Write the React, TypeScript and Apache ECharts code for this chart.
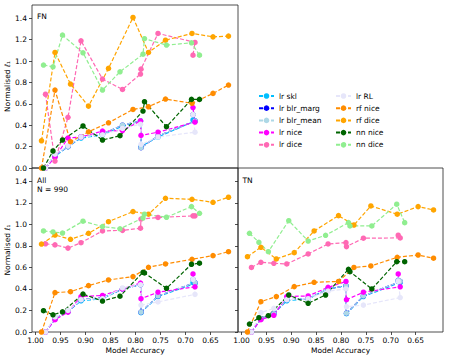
import React, { useEffect, useRef } from "react";
import * as echarts from "echarts";

// x positions (model accuracy) per model family
const lrX = [0.980, 0.961, 0.935, 0.909, 0.866, 0.826, 0.790, 0.789, 0.755, 0.681, 0.685];
const rfX = [0.988, 0.961, 0.930, 0.894, 0.854, 0.805, 0.774, 0.740, 0.687, 0.645, 0.614];
const nnX = [0.984, 0.965, 0.946, 0.905, 0.866, 0.831, 0.785, 0.782, 0.738, 0.688, 0.672];

const seriesNames = ["lr skl", "lr blr_marg", "lr blr_mean", "lr nice", "lr dice", "lr RL", "rf nice", "rf dice", "nn nice", "nn dice"];
const seriesFamily = ["lr", "lr", "lr", "lr", "lr", "lr", "rf", "rf", "nn", "nn"];
const seriesColors = ["#00BFFF", "#0000FF", "#ADD8E6", "#FF00FF", "#FF69B4", "#E6E6FA", "#FF8C00", "#FFA500", "#006400", "#90EE90"];

const panelNames = ["FN", "All", "TN"];
const xTicks = [0.65, 0.7, 0.75, 0.8, 0.85, 0.9, 0.95, 1.0];
const yTicks = [0, 0.2, 0.4, 0.6, 0.8, 1.0, 1.2, 1.4];

// FN panel
const fnLrSkl = [0, 0.11, 0.20, 0.28, 0.31, 0.39, 0.44, 0.20, 0.29, 0.44, 0.45];
const fnLrMarg = [0, 0.12, 0.20, 0.29, 0.32, 0.40, 0.44, 0.19, 0.30, 0.44, 0.50];
const fnLrMean = [0, 0.12, 0.20, 0.29, 0.32, 0.40, 0.44, 0.19, 0.30, 0.44, 0.50];
const fnLrNice = [0, 0.10, 0.28, 0.29, 0.345, 0.35, 0.44, 0.305, 0.335, 0.43, 0.565];
const fnLrDice = [0.69, 0.065, 0.474, 1.19, 0.832, 0.735, 0.879, 0.925, 1.259, 1.175, 1.056];
const fnLrRL = [0, 0.13, 0.21, 0.29, 0.31, 0.37, 0.41, 0.22, 0.29, 0.335, 0.50];
const fnRfNice = [0, 0.729, 0.246, 0.339, 0.423, 0.548, 0.573, 0.645, 0.605, 0.698, 0.776];
const fnRfDice = [0.255, 1.081, 0.785, 0.579, 0.932, 1.408, 1.081, 1.196, 1.259, 1.227, 1.234];
const fnNnNice = [0, 0.159, 0.262, 0.393, 0.262, 0.302, 0.533, 0.62, 0.386, 0.642, 0.642];
const fnNnDice = [0.963, 0.947, 1.243, 1.078, 0.729, 0.90, 1.065, 1.21, 1.15, 1.171, 1.056];

// All panel
const allLrSkl = [0, 0.12, 0.19, 0.29, 0.31, 0.40, 0.44, 0.18, 0.33, 0.45, 0.46];
const allLrMarg = [0, 0.125, 0.19, 0.30, 0.32, 0.40, 0.44, 0.185, 0.335, 0.46, 0.49];
const allLrMean = [0, 0.125, 0.19, 0.30, 0.32, 0.40, 0.44, 0.185, 0.335, 0.46, 0.49];
const allLrNice = [0, 0.115, 0.185, 0.33, 0.34, 0.40, 0.455, 0.31, 0.37, 0.42, 0.54];
const allLrDice = [0.82, 0.81, 0.78, 0.83, 0.94, 0.945, 0.965, 1.05, 1.065, 1.08, 1.08];
const allLrRL = [0, 0.14, 0.20, 0.30, 0.31, 0.41, 0.44, 0.25, 0.28, 0.35, 0.49];
const allRfNice = [0, 0.366, 0.375, 0.431, 0.484, 0.515, 0.602, 0.633, 0.676, 0.71, 0.747];
const allRfDice = [0.818, 0.902, 0.862, 0.918, 1.026, 1.12, 1.095, 1.243, 1.234, 1.206, 1.253];
const allNnNice = [0.198, 0.16, 0.187, 0.353, 0.288, 0.333, 0.555, 0.55, 0.406, 0.63, 0.64];
const allNnDice = [0.94, 0.93, 0.92, 1.03, 0.98, 0.96, 1.06, 1.095, 1.067, 1.166, 1.104];

// TN panel
const tnLrSkl = [0, 0.12, 0.17, 0.29, 0.31, 0.40, 0.43, 0.17, 0.33, 0.46, 0.47];
const tnLrMarg = [0, 0.125, 0.17, 0.30, 0.31, 0.40, 0.43, 0.175, 0.335, 0.47, 0.48];
const tnLrMean = [0, 0.125, 0.17, 0.30, 0.31, 0.40, 0.43, 0.175, 0.335, 0.47, 0.48];
const tnLrNice = [0, 0.115, 0.155, 0.33, 0.335, 0.415, 0.47, 0.30, 0.37, 0.42, 0.54];
const tnLrDice = [0.60, 0.648, 0.639, 0.633, 0.726, 0.819, 0.831, 0.794, 0.872, 0.875, 0.90];
const tnLrRL = [0, 0.18, 0.22, 0.30, 0.31, 0.38, 0.40, 0.235, 0.25, 0.32, 0.47];
const tnRfNice = [0, 0.282, 0.329, 0.422, 0.462, 0.47, 0.60, 0.614, 0.695, 0.716, 0.686];
const tnRfDice = [0.70, 0.788, 0.679, 0.738, 0.94, 1.082, 0.995, 1.172, 1.095, 1.166, 1.135];
const tnNnNice = [0.074, 0.133, 0.152, 0.344, 0.267, 0.344, 0.583, 0.561, 0.40, 0.654, 0.654];
const tnNnDice = [0.918, 0.834, 0.747, 1.035, 0.846, 0.899, 1.017, 0.986, 0.986, 1.188, 1.017];

const panelValues = [
  [fnLrSkl, fnLrMarg, fnLrMean, fnLrNice, fnLrDice, fnLrRL, fnRfNice, fnRfDice, fnNnNice, fnNnDice],
  [allLrSkl, allLrMarg, allLrMean, allLrNice, allLrDice, allLrRL, allRfNice, allRfDice, allNnNice, allNnDice],
  [tnLrSkl, tnLrMarg, tnLrMean, tnLrNice, tnLrDice, tnLrRL, tnRfNice, tnRfDice, tnNnNice, tnNnDice],
];

const familyX: Record<string, number[]> = { lr: lrX, rf: rfX, nn: nnX };

const FONT = "DejaVu Sans";

export default function App() {
  const ref = useRef<HTMLDivElement>(null);
  useEffect(() => {
    document.body.style.margin = "0";
    if (!ref.current) return;
    const chart = echarts.init(ref.current, undefined, { renderer: "svg" });

    const grids = [
      { left: 32, top: 5, width: 206, height: 163 },
      { left: 32, top: 168, width: 206, height: 164 },
      { left: 238, top: 168, width: 205, height: 164 },
    ].map((g) => ({ ...g, show: true, borderColor: "#222", borderWidth: 0.8, backgroundColor: "transparent" }));

    const xAxes = panelNames.map((_, p) => ({
      type: "value",
      gridIndex: p,
      min: 0.595,
      max: 1.007,
      inverse: true,
      axisLine: { show: false },
      splitLine: { show: false },
      axisTick: { show: p !== 0, length: 3, customValues: xTicks, lineStyle: { color: "#222", width: 0.8 } },
      axisLabel: {
        show: p !== 0,
        customValues: xTicks,
        formatter: (v: number) => v.toFixed(2),
        fontSize: 7.5,
        color: "#000",
        fontFamily: FONT,
        margin: 4,
      },
      name: p !== 0 ? "Model Accuracy" : "",
      nameLocation: "middle",
      nameGap: 14,
      nameTextStyle: { fontSize: 7.5, color: "#000", fontFamily: FONT },
    }));

    const yAxes = panelNames.map((_, p) => ({
      type: "value",
      gridIndex: p,
      min: 0,
      max: 1.525,
      axisLine: { show: false },
      splitLine: { show: false },
      axisTick: { show: true, length: 3, customValues: yTicks, lineStyle: { color: "#222", width: 0.8 } },
      axisLabel: {
        show: p !== 2,
        customValues: yTicks,
        formatter: (v: number) => v.toFixed(1),
        fontSize: 7.5,
        color: "#000",
        fontFamily: FONT,
        margin: 5,
      },
      name: p !== 2 ? "Normalised ℓ₁" : "",
      nameLocation: "middle",
      nameGap: 19,
      nameRotate: 90,
      nameTextStyle: { fontSize: 7.5, color: "#000", fontFamily: FONT },
    }));

    const series: any[] = [];
    panelNames.forEach((_, p) => {
      seriesNames.forEach((name, k) => {
        const xs = familyX[seriesFamily[k]];
        const vals = panelValues[p][k];
        series.push({
          type: "line",
          name,
          xAxisIndex: p,
          yAxisIndex: p,
          data: xs.map((x, i) => [x, vals[i]]),
          symbol: "circle",
          symbolSize: 5.5,
          showSymbol: true,
          lineStyle: { color: seriesColors[k], width: 1.2, type: [4, 2] },
          itemStyle: { color: seriesColors[k] },
          emphasis: { disabled: true },
        });
      });
    });

    const legendBase = {
      orient: "vertical",
      padding: 0,
      itemWidth: 15,
      itemHeight: 7,
      itemGap: 4.2,
      textStyle: { fontSize: 7.5, color: "#000", fontFamily: FONT },
      selectedMode: false,
    };

    chart.setOption({
      animation: false,
      textStyle: { fontFamily: FONT },
      grid: grids,
      xAxis: xAxes,
      yAxis: yAxes,
      series,
      legend: [
        { ...legendBase, data: seriesNames.slice(0, 5), left: 258, top: 92 },
        { ...legendBase, data: seriesNames.slice(5), left: 335, top: 92 },
      ],
      graphic: [
        { type: "text", x: 37, y: 12, style: { text: panelNames[0], fontSize: 7.5, fill: "#000", fontFamily: FONT, verticalAlign: "top" } },
        { type: "text", x: 37, y: 176.5, style: { text: panelNames[1] + "\nN = 990", fontSize: 7.5, lineHeight: 8.5, fill: "#000", fontFamily: FONT, verticalAlign: "top" } },
        { type: "text", x: 242.5, y: 176.5, style: { text: panelNames[2], fontSize: 7.5, fill: "#000", fontFamily: FONT, verticalAlign: "top" } },
      ],
    });
    return () => chart.dispose();
  }, []);
  return <div ref={ref} style={{ width: 449, height: 360 }} />;
}
